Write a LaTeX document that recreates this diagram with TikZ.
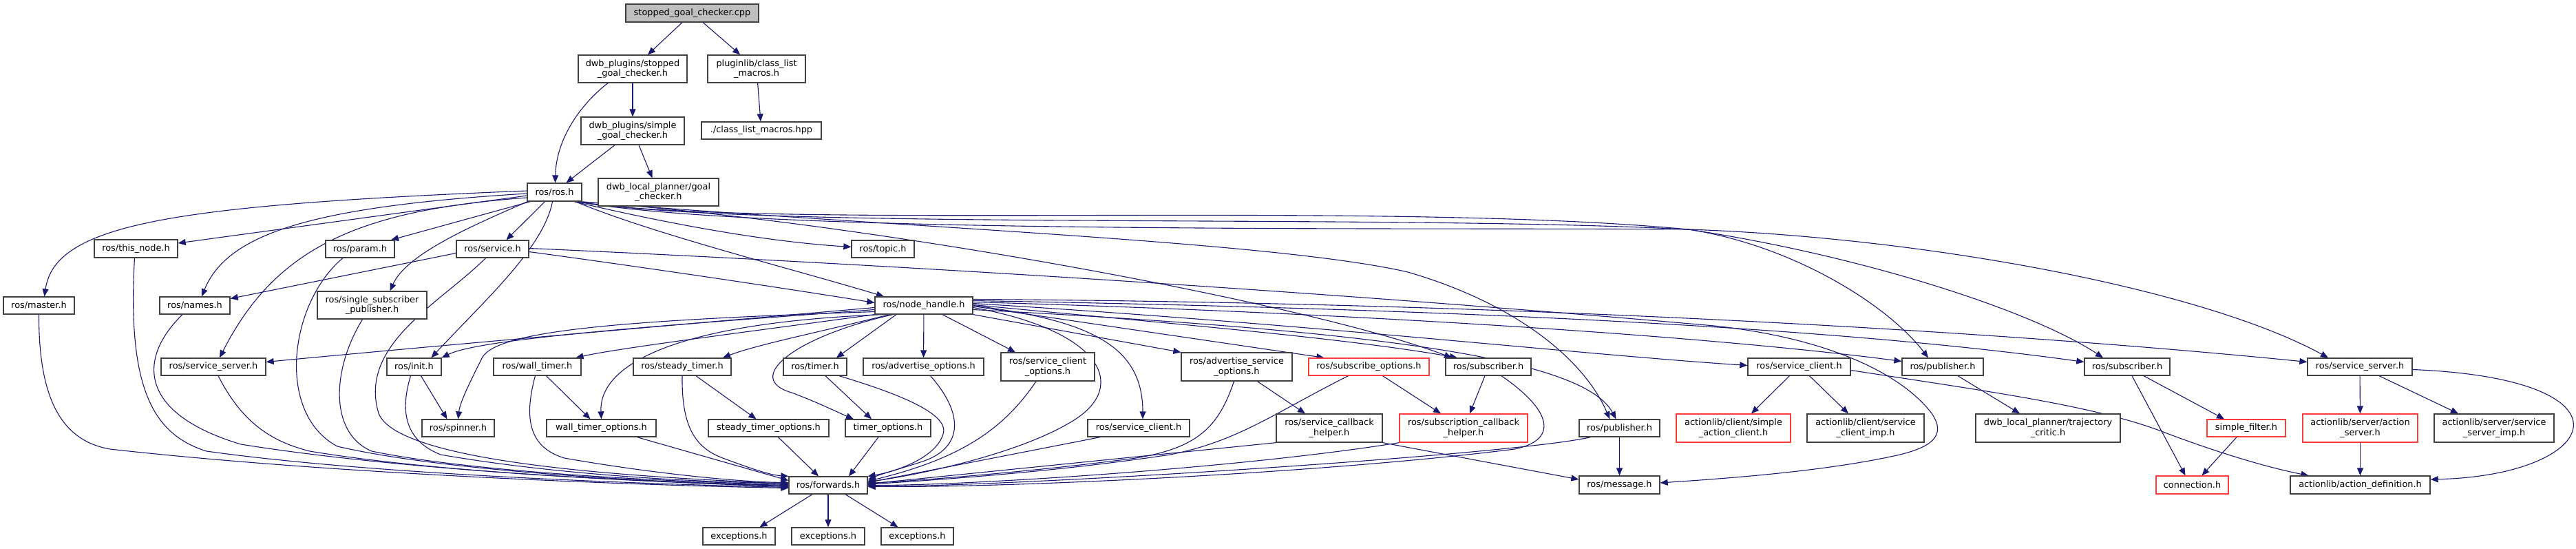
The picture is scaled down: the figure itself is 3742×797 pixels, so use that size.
\documentclass[tikz,border=0pt]{standalone}
\usepackage{fontspec}
\setmainfont{DejaVu Sans}
\usetikzlibrary{arrows.meta}
\definecolor{edgec}{RGB}{25,25,112}
\definecolor{redb}{RGB}{255,60,60}
\definecolor{bord}{RGB}{64,64,64}
\definecolor{topfill}{RGB}{191,191,191}
\pgfdeclarelayer{bg}
\pgfsetlayers{bg,main}
\newcommand{\bx}[7][]{\node[box,#1,minimum width={(#5)-(#3)},minimum height={(#6)-(#4)}] (#2) at ({((#3)+(#5))/2},{((#4)+(#6))/2}) {#7};}
\begin{document}
\begin{tikzpicture}[x=1pt,y=-1pt,
  box/.style={draw=bord,line width=1.3pt,fill=white,inner sep=0pt,align=center,font=\fontsize{12.9}{14.6}\selectfont},
  redbox/.style={draw=redb},
  edge/.style={draw=edgec,line width=1.1pt,-{Triangle[length=11pt,width=9pt]}}]
\useasboundingbox (0,0) rectangle (3742,797);
\bx[fill=topfill]{cpp}{909}{6}{1102}{32}{stopped\_goal\_checker.cpp}
\bx{sgc}{840}{80}{998}{120}{dwb\_plugins/stopped\\\_goal\_checker.h}
\bx{clm}{1028}{80}{1170}{120}{pluginlib/class\_list\\\_macros.h}
\bx{simple}{844}{170}{994}{210}{dwb\_plugins/simple\\\_goal\_checker.h}
\bx{clmhpp}{1019}{177}{1193}{202}{./class\_list\_macros.hpp}
\bx{ros}{766}{266}{845}{292}{ros/ros.h}
\bx{goalchk}{869}{259}{1044}{299}{dwb\_local\_planner/goal\\\_checker.h}
\bx{service}{663}{349}{768}{374}{ros/service.h}
\bx{thisnode}{137}{348}{258}{374}{ros/this\_node.h}
\bx{param}{473}{349}{573}{374}{ros/param.h}
\bx{topic}{1237}{349}{1328}{374}{ros/topic.h}
\bx{master}{5}{431}{108}{456}{ros/master.h}
\bx{names}{232}{431}{334}{456}{ros/names.h}
\bx{ssp}{461}{423}{620}{463}{ros/single\_subscriber\\\_publisher.h}
\bx{nh}{1271}{431}{1413}{456}{ros/node\_handle.h}
\bx{ssrvA}{234}{520}{386}{545}{ros/service\_server.h}
\bx{init}{562}{520}{641}{545}{ros/init.h}
\bx{wtimer}{717}{520}{844}{545}{ros/wall\_timer.h}
\bx{stimer}{920}{520}{1062}{545}{ros/steady\_timer.h}
\bx{timer}{1138}{520}{1230}{545}{ros/timer.h}
\bx{advopt}{1254}{520}{1429}{545}{ros/advertise\_options.h}
\bx{scopt}{1454}{512}{1590}{553}{ros/service\_client\\\_options.h}
\bx{advsopt}{1716}{512}{1877}{553}{ros/advertise\_service\\\_options.h}
\bx[redbox]{subopt}{1901}{520}{2076}{545}{ros/subscribe\_options.h}
\bx{subA}{2100}{520}{2224}{545}{ros/subscriber.h}
\bx{scB}{2539}{520}{2688}{545}{ros/service\_client.h}
\bx{pubB}{2763}{520}{2881}{545}{ros/publisher.h}
\bx{subB}{3028}{520}{3152}{545}{ros/subscriber.h}
\bx{ssrvB}{3352}{520}{3504}{545}{ros/service\_server.h}
\bx{spinner}{613}{609}{718}{634}{ros/spinner.h}
\bx{wtopt}{794}{609}{953}{634}{wall\_timer\_options.h}
\bx{stopt}{1029}{609}{1204}{634}{steady\_timer\_options.h}
\bx{topt}{1228}{609}{1352}{634}{timer\_options.h}
\bx{scA}{1580}{609}{1728}{634}{ros/service\_client.h}
\bx{scbh}{1854}{601}{2008}{642}{ros/service\_callback\\\_helper.h}
\bx[redbox]{subcbh}{2033}{601}{2219}{642}{ros/subscription\_callback\\\_helper.h}
\bx{pubA}{2294}{609}{2411}{634}{ros/publisher.h}
\bx[redbox]{sac}{2435}{601}{2601}{642}{actionlib/client/simple\\\_action\_client.h}
\bx{scimp}{2625}{601}{2795}{642}{actionlib/client/service\\\_client\_imp.h}
\bx{tcritic}{2870}{601}{3080}{642}{dwb\_local\_planner/trajectory\\\_critic.h}
\bx[redbox]{sfilter}{3206}{609}{3320}{634}{simple\_filter.h}
\bx[redbox]{aserver}{3345}{601}{3512}{642}{actionlib/server/action\\\_server.h}
\bx{ssimp}{3536}{601}{3710}{642}{actionlib/server/service\\\_server\_imp.h}
\bx{fwd}{1146}{692}{1260}{717}{ros/forwards.h}
\bx{message}{2294}{691}{2411}{717}{ros/message.h}
\bx[redbox]{conn}{3132}{691}{3237}{717}{connection.h}
\bx{adef}{3327}{691}{3530}{717}{actionlib/action\_definition.h}
\bx{excA}{1021}{766}{1126}{791}{exceptions.h}
\bx{excB}{1150}{766}{1256}{791}{exceptions.h}
\bx{excC}{1280}{766}{1385}{791}{exceptions.h}
\begin{pgfonlayer}{bg}
% top part
\draw[edge] (cpp) -- (sgc);
\draw[edge] (cpp) -- (clm);
\draw[edge] ([xshift=-36pt]sgc.south) .. controls (845,150) and (808,200) .. ([xshift=1pt]ros.north);
\draw[edge] (sgc) -- (simple);
\draw[edge] (clm) -- (clmhpp);
\draw[edge] ([xshift=-26pt]simple.south) -- ([xshift=17pt]ros.north);
\draw[edge] ([xshift=9pt]simple.south) -- ([xshift=-9pt]goalchk.north);
% ros.h
\draw[edge] ([yshift=-5pt]ros.west) -- ([yshift=8pt]thisnode.east);
\draw[edge] ([yshift=2pt]ros.west) .. controls (250,298) and (80,325) .. ([xshift=8pt]master.north);
\draw[edge] ([yshift=-2pt]ros.west) .. controls (450,300) and (330,340) .. ([xshift=10pt]names.north);
\draw[edge] ([xshift=5pt]ros.south west) -- ([xshift=45pt]param.north);
\draw[edge] ([xshift=-14pt]ros.south) -- ([xshift=20pt]service.north);
\draw[edge] ([yshift=-8pt]ros.west) .. controls (520,305) and (400,360) .. ([xshift=9pt]ssrvA.north);
\draw[edge] ([xshift=1pt]ros.south west) .. controls (680,330) and (590,370) .. ([xshift=26pt]ssp.north);
\draw[edge] ([xshift=-3pt]ros.south) .. controls (790,360) and (700,440) .. ([xshift=25pt]init.north);
\draw[edge] ([xshift=-12pt]ros.south east) .. controls (950,320) and (1100,350) .. ([yshift=3pt]topic.west);
\draw[edge] ([xshift=-10pt]ros.south east) .. controls (950,340) and (1150,390) .. ([xshift=-58pt]nh.north);
\draw[edge] ([xshift=-6pt]ros.south east) .. controls (1250,320) and (1900,440) .. ([xshift=-53pt]subA.north);
\draw[edge] ([xshift=-4pt]ros.south east) .. controls (1300,330) and (1850,350) .. (2045,395) .. controls (2200,440) and (2300,520) .. ([xshift=-14pt]pubA.north);
\draw[edge] ([xshift=-8pt]ros.south east) .. controls (1100,335) and (2000,290) .. (2452,333) .. controls (2600,355) and (2740,440) .. ([xshift=-21pt]pubB.north);
\draw[edge] ([xshift=-8pt]ros.south east) .. controls (1100,335) and (2000,310) .. (2452,333) .. controls (2700,370) and (2950,450) .. ([xshift=-35pt]subB.north);
\draw[edge] ([xshift=-8pt]ros.south east) .. controls (1100,340) and (2000,330) .. (2452,333) .. controls (2800,345) and (3200,420) .. ([xshift=-46pt]ssrvB.north);
% service.h
\draw[edge] ([yshift=-6pt]service.west) -- ([yshift=10pt]names.east);
\draw[edge] ([yshift=-4pt]service.east) .. controls (950,390) and (1150,420) .. ([yshift=4pt]nh.west);
\draw[edge] ([yshift=1pt]service.east) .. controls (1100,375) and (1800,412) .. (2490,473) .. controls (2650,490) and (2760,540) .. (2806,600) .. controls (2830,635) and (2800,650) .. (2760,660) .. controls (2650,685) and (2500,695) .. ([yshift=3pt]message.east);
\draw[edge] ([xshift=-10pt]service.south) .. controls (640,440) and (520,500) .. (550,600) .. controls (580,680) and (1000,695) .. ([yshift=2pt]fwd.west);
% left side into forwards
\draw[edge] (master.south) .. controls (56,580) and (90,640) .. (160,652) .. controls (500,690) and (950,705) .. ([yshift=-4pt]fwd.west);
\draw[edge] ([xshift=-2pt]thisnode.south) .. controls (185,560) and (220,630) .. (300,655) .. controls (550,690) and (950,703) .. ([yshift=-3pt]fwd.west);
\draw[edge] ([xshift=-18pt]names.south) .. controls (200,520) and (200,600) .. (350,645) .. controls (600,685) and (950,700) .. ([yshift=-2pt]fwd.west);
\draw[edge] ([xshift=-25pt]param.south) .. controls (420,440) and (400,600) .. (490,648) .. controls (650,685) and (950,700) .. ([yshift=-1pt]fwd.west);
\draw[edge] ([xshift=7pt]ssrvA.south) .. controls (350,610) and (390,640) .. (450,655) .. controls (650,688) and (950,700) .. (fwd.west);
\draw[edge] ([xshift=-14pt]ssp.south) .. controls (480,540) and (480,630) .. (540,655) .. controls (700,688) and (1000,700) .. ([yshift=1pt]fwd.west);
\draw[edge] ([xshift=-5pt]init.south) .. controls (580,600) and (590,640) .. (640,660) .. controls (800,688) and (1000,700) .. ([yshift=3pt]fwd.west);
\draw[edge] ([xshift=-3pt]wtimer.south) .. controls (760,610) and (770,650) .. (820,665) .. controls (950,688) and (1080,700) .. ([yshift=4pt]fwd.west);
\draw[edge] ([xshift=52pt]wtopt.south) -- ([yshift=7pt]fwd.west);
\draw[edge] (stimer.south) .. controls (990,620) and (1010,650) .. (1050,665) .. controls (1090,680) and (1120,690) .. (fwd.north west);
\draw[edge] ([xshift=14pt]stopt.south) -- ([xshift=-14pt]fwd.north);
\draw[edge] ([xshift=20pt]stimer.south) -- ([xshift=-18pt]stopt.north);
\draw[edge] ([xshift=13pt]wtimer.south) -- ([xshift=-16pt]wtopt.north);
\draw[edge] ([xshift=15pt]timer.south) -- ([xshift=-24pt]topt.north);
\draw[edge] ([xshift=35pt]timer.south) .. controls (1300,570) and (1380,600) .. (1370,630) .. controls (1360,665) and (1300,685) .. (fwd.north east);
\draw[edge] ([xshift=-14pt]topt.south) -- ([xshift=30pt]fwd.north);
\draw[edge] ([xshift=10pt]advopt.south) .. controls (1400,600) and (1400,650) .. (1340,670) .. controls (1300,683) and (1280,688) .. ([yshift=8pt]fwd.east);
\draw[edge] ([xshift=-17pt]scopt.south) .. controls (1460,620) and (1400,665) .. ([yshift=6pt]fwd.east);
\draw[edge] ([yshift=-3pt]nh.east) .. controls (1600,480) and (1640,560) .. (1560,610) .. controls (1480,660) and (1330,690) .. ([yshift=5pt]fwd.east);
\draw[edge] ([xshift=-56pt]scA.south) -- ([yshift=4pt]fwd.east);
\draw[edge] ([xshift=-4pt]advsopt.south) .. controls (1770,620) and (1740,650) .. (1650,665) .. controls (1500,685) and (1330,698) .. ([yshift=3pt]fwd.east);
\draw[edge] (scbh.south west) -- ([yshift=2pt]fwd.east);
\draw[edge] ([xshift=-30pt]subopt.south) .. controls (1850,600) and (1800,640) .. (1700,660) .. controls (1500,690) and (1300,700) .. ([yshift=1pt]fwd.east);
\draw[edge] (subcbh.south west) .. controls (1800,680) and (1400,705) .. (fwd.east);
\draw[edge] ([xshift=19pt]subA.south) .. controls (2260,600) and (2260,640) .. (2200,652) .. controls (1900,690) and (1400,710) .. ([yshift=-1pt]fwd.east);
\draw[edge] ([xshift=-42pt]pubA.south) .. controls (2200,660) and (1500,705) .. ([yshift=-2pt]fwd.east);
% forwards -> exceptions
\draw[edge] ([xshift=-23pt]fwd.south) -- ([xshift=30pt]excA.north);
\draw[edge] (fwd) -- (excB);
\draw[edge] ([xshift=25pt]fwd.south) -- ([xshift=-28pt]excC.north);
% node_handle.h
\draw[edge] ([yshift=-3pt]nh.west) .. controls (1000,470) and (600,505) .. ([yshift=7pt]ssrvA.east);
\draw[edge] ([yshift=-6pt]nh.west) .. controls (1000,470) and (700,490) .. (init.north east);
\draw[edge] ([yshift=-9pt]nh.west) .. controls (900,465) and (720,480) .. (700,520) .. controls (680,560) and (668,585) .. (spinner.north);
\draw[edge] ([xshift=10pt]init.south) -- ([xshift=-16pt]spinner.north);
\draw[edge] (nh.south west) .. controls (1100,480) and (900,505) .. ([xshift=56pt]wtimer.north);
\draw[edge] ([xshift=-60pt]nh.south) .. controls (950,470) and (870,540) .. (wtopt.north);
\draw[edge] ([xshift=-50pt]nh.south) .. controls (1200,480) and (1100,500) .. ([xshift=59pt]stimer.north);
\draw[edge] ([xshift=-40pt]nh.south) -- ([xshift=31pt]timer.north);
\draw[edge] ([xshift=-45pt]nh.south) .. controls (1150,490) and (1080,550) .. (1150,570) .. controls (1190,585) and (1220,600) .. ([xshift=-50pt]topt.north);
\draw[edge] (nh) -- (advopt);
\draw[edge] ([xshift=27pt]nh.south) -- ([xshift=-47pt]scopt.north);
\draw[edge] (nh.east) .. controls (1580,465) and (1660,500) .. ([xshift=6pt]scA.north);
\draw[edge] (nh.south east) -- (advsopt.north west);
\draw[edge] ([yshift=-1pt]nh.east) -- ([xshift=-65pt]subopt.north);
\draw[edge] ([yshift=1pt]nh.east) .. controls (1700,470) and (1950,490) .. ([xshift=-45pt]subA.north);
\draw[edge] ([yshift=-6pt]nh.east) .. controls (2000,480) and (2300,520) .. ([xshift=-5pt]pubA.north);
\draw[edge] ([yshift=3pt]nh.east) .. controls (1900,470) and (2300,515) .. ([yshift=2pt]scB.west);
\draw[edge] ([yshift=5pt]nh.east) .. controls (2000,455) and (2500,490) .. ([yshift=8pt]pubB.west);
\draw[edge] ([yshift=7pt]nh.east) .. controls (2200,450) and (2700,480) .. ([yshift=7pt]subB.west);
\draw[edge] ([yshift=9pt]nh.east) .. controls (2300,440) and (3000,490) .. ([yshift=7pt]ssrvB.west);
% others
\draw[edge] ([xshift=30pt]advsopt.south) -- ([xshift=-35pt]scbh.north);
\draw[edge] (scbh.south east) -- ([yshift=8pt]message.west);
\draw[edge] ([xshift=20pt]subopt.south) -- ([xshift=-33pt]subcbh.north);
\draw[edge] ([xshift=-5pt]subA.south) -- ([xshift=9pt]subcbh.north);
\draw[edge] (pubA) -- (message);
\draw[edge] ([xshift=-14pt]scB.south) -- ([xshift=26pt]sac.north);
\draw[edge] ([xshift=15pt]scB.south) -- ([xshift=-25pt]scimp.north);
\draw[edge] ([yshift=-5pt]scB.east) .. controls (2900,570) and (3050,590) .. (3150,630) .. controls (3230,660) and (3300,680) .. ([xshift=-75pt]adef.north);
\draw[edge] ([xshift=22pt]pubB.south) -- ([xshift=-41pt]tcritic.north);
\draw[edge] ([xshift=24pt]subB.south) -- ([xshift=-32pt]sfilter.north);
\draw[edge] ([xshift=7pt]subB.south) -- ([xshift=-10pt]conn.north);
\draw[edge] ([xshift=-14pt]sfilter.south) -- ([xshift=14pt]conn.north);
\draw[edge] (ssrvB) -- (aserver);
\draw[edge] ([xshift=28pt]ssrvB.south) -- ([xshift=-52pt]ssimp.north);
\draw[edge] ([yshift=-4pt]ssrvB.east) .. controls (3840,550) and (3780,690) .. ([yshift=8pt]adef.east);
\draw[edge] (aserver) -- (adef);
\end{pgfonlayer}
\end{tikzpicture}
\end{document}
